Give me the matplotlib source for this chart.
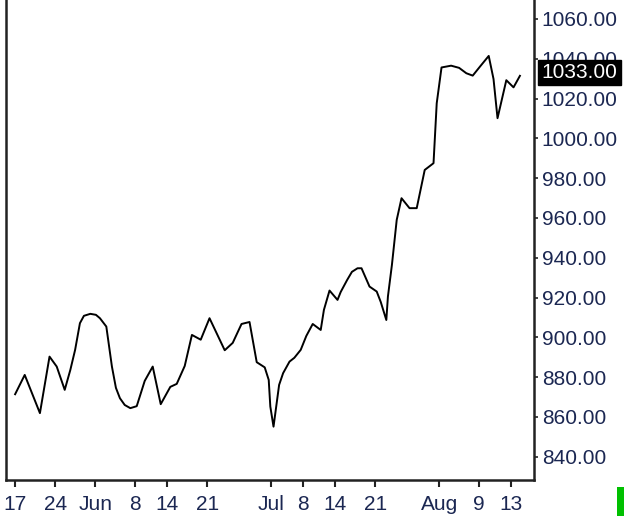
import matplotlib
matplotlib.use('Agg')
import matplotlib.pyplot as plt
import matplotlib.transforms as mtransforms
from matplotlib.patches import Rectangle

# trading-day index (0 = first label) and close values
days = [0.0, 1.2, 3.1, 4.3, 5.2, 6.2, 6.9, 7.5, 8.1, 8.6, 9.4, 10.1, 10.6, 11.4,
        12.1, 12.6, 13.1, 13.7, 14.4, 15.2, 16.2, 17.2, 18.2, 19.4, 20.2, 21.2,
        22.1, 23.2, 24.3, 26.2, 27.2, 28.3, 29.3, 30.2, 31.2, 31.7, 31.9, 32.3,
        33.0, 33.5, 34.3, 34.9, 35.7, 36.4, 37.2, 38.2, 38.6, 39.3, 40.3, 40.7,
        41.5, 42.1, 42.8, 43.3, 44.3, 45.2, 45.7, 46.4, 46.6, 47.1, 47.7, 48.3,
        49.3, 50.2, 51.2, 52.3, 52.7, 53.3, 54.5, 55.5, 56.4, 57.2, 58.1, 59.2,
        59.8, 60.3, 61.4, 62.3, 63.1]
close = [871.4, 881.1, 861.9, 890.3, 885.3, 873.6, 883.6, 893.7, 907.1, 910.8,
         911.8, 911.3, 909.6, 905.4, 885.3, 874.6, 869.4, 866.0, 864.4, 865.4,
         878.1, 885.3, 866.4, 875.1, 876.6, 885.6, 901.2, 898.8, 909.6, 893.5,
         897.2, 906.7, 907.7, 887.5, 884.9, 878.6, 865.2, 855.1, 876.1, 882.0,
         887.8, 889.7, 893.7, 900.7, 906.7, 903.7, 913.8, 923.5, 918.8, 922.8,
         928.8, 932.9, 934.7, 934.7, 925.5, 923.0, 917.8, 908.7, 920.5, 936.4,
         959.0, 969.9, 964.9, 964.9, 984.1, 987.5, 1017.6, 1035.6, 1036.5,
         1035.4, 1032.7, 1031.5, 1036.0, 1041.4, 1029.8, 1010.1, 1029.2, 1025.6,
         1031.4]
last_price = 1033.00

tick_days = [0, 5, 10, 15, 19, 24, 32, 36, 40, 45, 53, 58, 62]
tick_labels = ['17', '24', 'Jun', '8', '14', '21', 'Jul', '8', '14', '21', 'Aug', '9', '13']
y_ticks = [840, 860, 880, 900, 920, 940, 960, 980, 1000, 1020, 1040, 1060]

plt.rcParams['font.family'] = ['Liberation Sans', 'DejaVu Sans']
label_col = '#1b2752'

fig = plt.figure(figsize=(6.24, 5.16), dpi=100)
ax = fig.add_axes([6.4 / 624, 36 / 516, (534 - 6.4) / 624, 480 / 516])

ax.plot(days, close, color='black', lw=1.4)

ax.set_xlim(-1.09, 64.86)
ax.set_ylim(828.3, 1069.5)

ax.set_xticks(tick_days)
ax.set_xticklabels(tick_labels)
ax.set_yticks(y_ticks)
ax.set_yticklabels(['%.2f' % v for v in y_ticks])
ax.yaxis.tick_right()

ax.tick_params(axis='x', direction='out', length=5, width=1.5, pad=6,
               labelsize=15, labelcolor=label_col, color='#222222')
ax.tick_params(axis='y', direction='out', length=3, width=1.2, pad=2.5,
               labelsize=15, labelcolor=label_col, color='#222222')

ax.spines['top'].set_visible(False)
for s in ['left', 'right', 'bottom']:
    ax.spines[s].set_linewidth(1.8)
    ax.spines[s].set_color('#222222')

# current price marker on the price axis
trans = mtransforms.blended_transform_factory(fig.transFigure, ax.transData)
ax.text(541.5 / 624, last_price, '%.2f' % last_price, transform=trans,
        ha='left', va='center', fontsize=15, color='white', clip_on=False,
        zorder=10,
        bbox=dict(boxstyle='square,pad=0.15', fc='black', ec='black'))

# small green volume marker in the corner
fig.patches.append(Rectangle((616.7 / 624, 0), 8 / 624, 29 / 516,
                             transform=fig.transFigure, fc='#00c000', ec='none'))

fig.savefig('out.png', dpi=100)
